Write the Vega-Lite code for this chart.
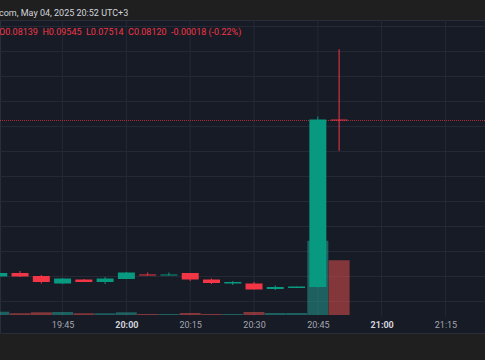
{
  "$schema": "https://vega.github.io/schema/vega-lite/v6.json",
  "width": 485,
  "height": 313,
  "autosize": {"type": "none"},
  "padding": {"left": 0, "right": 0, "top": 20, "bottom": 27},
  "background": "#1f1f1f",
  "config": {
    "view": {"fill": "#171b26", "stroke": "#2a2e39"},
    "font": "Roboto"
  },
  "title": {
    "text": "com, May 04, 2025 20:52 UTC+3",
    "subtitle": "O0.08139\u00a0 H0.09545\u00a0 L0.07514\u00a0 C0.08120\u00a0 -0.00018 (-0.22%)",
    "anchor": "start",
    "frame": "group",
    "offset": -17,
    "dx": -1,
    "font": "Roboto",
    "subtitleFont": "Roboto",
    "fontSize": 9,
    "subtitleFontSize": 9,
    "fontWeight": "normal",
    "color": "#d1d4dc",
    "subtitleColor": "#f23645",
    "subtitlePadding": 10
  },
  "datasets": {
    "candles": [
      {"t": "2025-05-04T19:30:00", "o": 0.0500, "h": 0.0509, "l": 0.0498, "c": 0.0507, "v": 33000},
      {"t": "2025-05-04T19:35:00", "o": 0.0507, "h": 0.0511, "l": 0.0499, "c": 0.0500, "v": 17000},
      {"t": "2025-05-04T19:40:00", "o": 0.0501, "h": 0.0503, "l": 0.0486, "c": 0.0489, "v": 27000},
      {"t": "2025-05-04T19:45:00", "o": 0.0486, "h": 0.0497, "l": 0.0485, "c": 0.0496, "v": 30000},
      {"t": "2025-05-04T19:50:00", "o": 0.0494, "h": 0.0495, "l": 0.0489, "c": 0.0489, "v": 17000},
      {"t": "2025-05-04T19:55:00", "o": 0.0489, "h": 0.0499, "l": 0.0485, "c": 0.0496, "v": 17000},
      {"t": "2025-05-04T20:00:00", "o": 0.0495, "h": 0.0509, "l": 0.0495, "c": 0.0508, "v": 27000},
      {"t": "2025-05-04T20:05:00", "o": 0.0504, "h": 0.0508, "l": 0.0502, "c": 0.0502, "v": 10000},
      {"t": "2025-05-04T20:10:00", "o": 0.0502, "h": 0.0508, "l": 0.0502, "c": 0.0504, "v": 10000},
      {"t": "2025-05-04T20:15:00", "o": 0.0507, "h": 0.0507, "l": 0.0491, "c": 0.0494, "v": 20000},
      {"t": "2025-05-04T20:20:00", "o": 0.0494, "h": 0.0496, "l": 0.0485, "c": 0.0487, "v": 10000},
      {"t": "2025-05-04T20:25:00", "o": 0.0486, "h": 0.0491, "l": 0.0483, "c": 0.0489, "v": 10000},
      {"t": "2025-05-04T20:30:00", "o": 0.0486, "h": 0.0489, "l": 0.0474, "c": 0.0474, "v": 30000},
      {"t": "2025-05-04T20:35:00", "o": 0.0475, "h": 0.0482, "l": 0.0473, "c": 0.0479, "v": 20000},
      {"t": "2025-05-04T20:40:00", "o": 0.0477, "h": 0.0480, "l": 0.0477, "c": 0.0480, "v": 20000},
      {"t": "2025-05-04T20:45:00", "o": 0.0479, "h": 0.0820, "l": 0.0478, "c": 0.08139, "v": 743000},
      {"t": "2025-05-04T20:50:00", "o": 0.08139, "h": 0.09545, "l": 0.07514, "c": 0.08120, "v": 547000}
    ],
    "gridTimes": [
      {"t": "2025-05-04T19:45:00"},
      {"t": "2025-05-04T20:00:00"},
      {"t": "2025-05-04T20:15:00"},
      {"t": "2025-05-04T20:30:00"},
      {"t": "2025-05-04T20:45:00"},
      {"t": "2025-05-04T21:00:00"},
      {"t": "2025-05-04T21:15:00"}
    ],
    "gridPrices": [
      {"p": 0.045}, {"p": 0.050}, {"p": 0.055}, {"p": 0.060}, {"p": 0.065}, {"p": 0.070},
      {"p": 0.075}, {"p": 0.080}, {"p": 0.085}, {"p": 0.090}, {"p": 0.095}, {"p": 0.100}
    ],
    "lastPrice": [{"last": 0.0812}]
  },
  "layer": [
    {
      "layer": [
        {
          "data": {"name": "gridTimes"},
          "mark": {"type": "rule", "color": "#252936", "strokeWidth": 1},
          "encoding": {
            "x": {
              "field": "t",
              "type": "temporal",
              "scale": {
                "domain": [
                  {"year": 2025, "month": 5, "date": 4, "hours": 19, "minutes": 31, "seconds": 28},
                  {"year": 2025, "month": 5, "date": 4, "hours": 21, "minutes": 23, "seconds": 7}
                ]
              },
              "axis": {
                "values": [
                  {"year": 2025, "month": 5, "date": 4, "hours": 19, "minutes": 30},
                  {"year": 2025, "month": 5, "date": 4, "hours": 19, "minutes": 45},
                  {"year": 2025, "month": 5, "date": 4, "hours": 20, "minutes": 0},
                  {"year": 2025, "month": 5, "date": 4, "hours": 20, "minutes": 15},
                  {"year": 2025, "month": 5, "date": 4, "hours": 20, "minutes": 30},
                  {"year": 2025, "month": 5, "date": 4, "hours": 20, "minutes": 45},
                  {"year": 2025, "month": 5, "date": 4, "hours": 21, "minutes": 0},
                  {"year": 2025, "month": 5, "date": 4, "hours": 21, "minutes": 15}
                ],
                "format": "%H:%M",
                "title": null,
                "domain": false,
                "ticks": false,
                "grid": false,
                "offset": -16,
                "labelPadding": 3,
                "labelFont": "Roboto",
                "labelFontSize": 9,
                "labelColor": {"condition": {"test": "minutes(datum.value) == 0", "value": "#d1d4dc"}, "value": "#a3a6af"},
                "labelFontWeight": {"condition": {"test": "minutes(datum.value) == 0", "value": "bold"}, "value": "normal"},
                "labelFlush": false,
                "labelOverlap": false,
                "labelBound": false
              }
            },
            "y": {
              "datum": 0.1013,
              "type": "quantitative",
              "scale": {"domain": [0.0387, 0.1013], "zero": false, "nice": false},
              "axis": null
            },
            "y2": {"datum": 0.042}
          }
        },
        {
          "data": {"name": "gridPrices"},
          "mark": {"type": "rule", "color": "#252936", "strokeWidth": 1},
          "encoding": {
            "y": {"field": "p", "type": "quantitative"}
          }
        },
        {
          "data": {"name": "lastPrice"},
          "mark": {"type": "rule", "color": "#f23645", "strokeDash": [1, 1], "opacity": 0.65, "strokeWidth": 1},
          "encoding": {
            "y": {"field": "last", "type": "quantitative"}
          }
        }
      ]
    },
    {
      "data": {"name": "candles"},
      "mark": {"type": "bar", "size": 21, "clip": true, "opacity": 0.5},
      "encoding": {
        "x": {"field": "t", "type": "temporal"},
        "y": {
          "field": "v",
          "type": "quantitative",
          "stack": null,
          "scale": {"domain": [-180000, 2950000], "zero": false, "nice": false},
          "axis": null
        },
        "color": {
          "condition": {"test": "datum.c >= datum.o", "value": "#26a69a"},
          "value": "#ef5350"
        }
      }
    },
    {
      "data": {"name": "candles"},
      "layer": [
        {
          "mark": {"type": "rule", "clip": true, "strokeWidth": 1},
          "encoding": {
            "x": {"field": "t", "type": "temporal"},
            "y": {
              "field": "l",
              "type": "quantitative",
              "scale": {"domain": [0.0387, 0.1013], "zero": false, "nice": false},
              "axis": null
            },
            "y2": {"field": "h"},
            "color": {
              "condition": {"test": "datum.c >= datum.o", "value": "#089981"},
              "value": "#f23645"
            }
          }
        },
        {
          "mark": {"type": "bar", "size": 17, "clip": true},
          "encoding": {
            "x": {"field": "t", "type": "temporal"},
            "y": {"field": "o", "type": "quantitative"},
            "y2": {"field": "c"},
            "color": {
              "condition": {"test": "datum.c >= datum.o", "value": "#089981"},
              "value": "#f23645"
            }
          }
        }
      ]
    }
  ],
  "resolve": {"scale": {"y": "independent"}, "axis": {"y": "independent"}}
}
